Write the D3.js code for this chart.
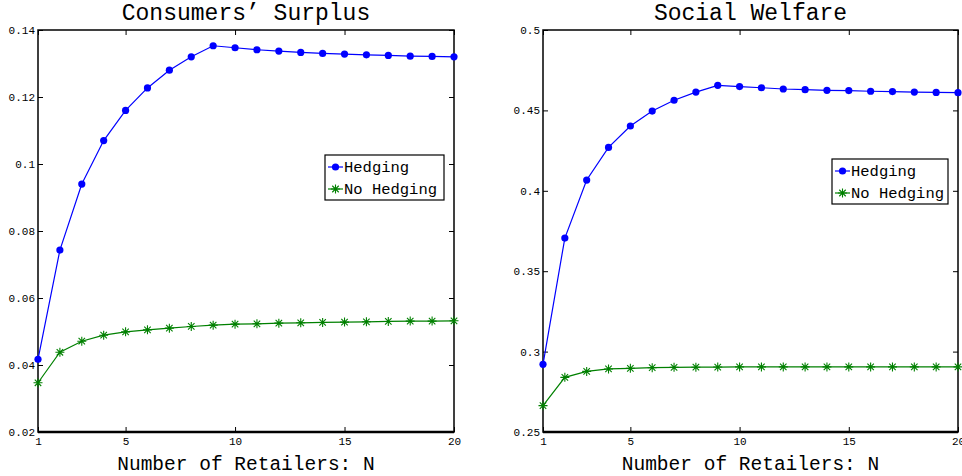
<!DOCTYPE html>
<html>
<head>
<meta charset="utf-8">
<script src="https://cdn.jsdelivr.net/npm/d3@7"></script>
<style>
  html, body { margin: 0; padding: 0; background: #fff; }
  svg { display: block; }
  text { font-family: "Liberation Mono", "DejaVu Sans Mono", monospace; fill: #000; }
</style>
</head>
<body>
<svg id="chart" width="962" height="476"></svg>
<script>
// ---- data ----
const retailers = [1,2,3,4,5,6,7,8,9,10,11,12,13,14,15,16,17,18,19,20];
const xTicks = [1,5,10,15,20];
const seriesNames = ["Hedging", "No Hedging"];

const csHedging = [0.0417,0.0743,0.0940,0.1070,0.1160,0.1227,0.1280,0.1320,0.1353,0.1347,
                   0.1341,0.1337,0.1333,0.1330,0.1328,0.1326,0.1324,0.1322,0.1321,0.1320];
const csNoHedging = [0.0347,0.0438,0.0471,0.0489,0.0499,0.0505,0.0510,0.0515,0.0519,0.0522,
                     0.0523,0.0525,0.0526,0.0527,0.0528,0.0529,0.0530,0.0531,0.0531,0.0532];
const csTicks = [0.02,0.04,0.06,0.08,0.10,0.12,0.14];
const csTickLabels = ["0.02","0.04","0.06","0.08","0.1","0.12","0.14"];

const swHedging = [0.2921,0.3706,0.4067,0.4270,0.4403,0.4496,0.4563,0.4614,0.4656,0.4648,
                   0.4641,0.4633,0.4629,0.4625,0.4623,0.4619,0.4617,0.4614,0.4612,0.4610];
const swNoHedging = [0.2664,0.2840,0.2877,0.2892,0.2896,0.2900,0.2902,0.2903,0.2904,0.2905,
                     0.2905,0.2905,0.2905,0.2905,0.2905,0.2905,0.2905,0.2905,0.2905,0.2905];
const swTicks = [0.25,0.30,0.35,0.40,0.45,0.50];
const swTickLabels = ["0.25","0.3","0.35","0.4","0.45","0.5"];

const titles = ["Consumers\u2019 Surplus", "Social Welfare"];
const xLabel = "Number of Retailers: N";

// ---- drawing ----
const svg = d3.select("#chart");
const BLUE = "#0000ff", GREEN = "#008000";

const panels = [
  { title: titles[0], h: csHedging, nh: csNoHedging, yDomain: [0.02, 0.14], yTicks: csTicks, yLabels: csTickLabels,
    x0: 38, x1: 454, y0: 30, y1: 432, legend: { x: 325, y: 155, w: 119, h: 45 } },
  { title: titles[1], h: swHedging, nh: swNoHedging, yDomain: [0.25, 0.5], yTicks: swTicks, yLabels: swTickLabels,
    x0: 543, x1: 958, y0: 30, y1: 432, legend: { x: 832, y: 159, w: 116, h: 45 } }
];

function asterisk(g, cx, cy, r, color) {
  const p = d3.path();
  p.moveTo(cx - r, cy); p.lineTo(cx + r, cy);
  p.moveTo(cx, cy - r); p.lineTo(cx, cy + r);
  const d = r * 0.72;
  p.moveTo(cx - d, cy - d); p.lineTo(cx + d, cy + d);
  p.moveTo(cx - d, cy + d); p.lineTo(cx + d, cy - d);
  g.append("path").attr("d", p.toString()).attr("stroke", color).attr("stroke-width", 1.1).attr("fill", "none");
}

panels.forEach(P => {
  const x = d3.scaleLinear().domain([1, 20]).range([P.x0, P.x1]);
  const y = d3.scaleLinear().domain(P.yDomain).range([P.y1, P.y0]);
  const g = svg.append("g");

  // axes with inward ticks
  const tickLen = 5;
  const fmtY = (d) => P.yLabels[P.yTicks.findIndex(t => Math.abs(t - d) < 1e-9)];

  const bottom = g.append("g").attr("transform", `translate(0,${P.y1})`)
    .call(d3.axisBottom(x).tickValues(xTicks).tickSize(-tickLen).tickPadding(6).tickFormat(d3.format("d")));
  const top = g.append("g").attr("transform", `translate(0,${P.y0})`)
    .call(d3.axisTop(x).tickValues(xTicks).tickSize(-tickLen).tickFormat(""));
  const left = g.append("g").attr("transform", `translate(${P.x0},0)`)
    .call(d3.axisLeft(y).tickValues(P.yTicks).tickSize(-tickLen).tickPadding(3).tickFormat(fmtY));
  const right = g.append("g").attr("transform", `translate(${P.x1},0)`)
    .call(d3.axisRight(y).tickValues(P.yTicks).tickSize(-tickLen).tickFormat(""));

  [bottom, top, left, right].forEach(a => {
    a.select(".domain").remove();
    a.selectAll(".tick line").attr("stroke", "#000").attr("stroke-width", 1);
    a.selectAll("text").style("font-family", "Liberation Mono, monospace").style("font-size", "11px").attr("fill", "#000");
  });
  bottom.selectAll("text").attr("dy", "0.6em");

  // box
  g.append("rect").attr("x", P.x0).attr("y", P.y0).attr("width", P.x1 - P.x0).attr("height", P.y1 - P.y0)
    .attr("fill", "none").attr("stroke", "#000").attr("stroke-width", 1.5);
  g.append("line").attr("x1", P.x0).attr("x2", P.x1).attr("y1", P.y1).attr("y2", P.y1)
    .attr("stroke", "#000").attr("stroke-width", 2.5);

  // lines
  const line = d3.line().x((d, i) => x(retailers[i])).y(d => y(d));
  g.append("path").datum(P.nh).attr("d", line).attr("fill", "none").attr("stroke", GREEN).attr("stroke-width", 1.2);
  g.append("path").datum(P.h).attr("d", line).attr("fill", "none").attr("stroke", BLUE).attr("stroke-width", 1.2);

  P.nh.forEach((v, i) => asterisk(g, x(retailers[i]), y(v), 4.5, GREEN));
  g.selectAll("circle.h").data(P.h).enter().append("circle")
    .attr("cx", (d, i) => x(retailers[i])).attr("cy", d => y(d)).attr("r", 3.6).attr("fill", BLUE);

  // title & x label
  g.append("text").attr("x", (P.x0 + P.x1) / 2).attr("y", 20).attr("text-anchor", "middle")
    .style("font-size", "23px").text(P.title);
  g.append("text").attr("x", (P.x0 + P.x1) / 2).attr("y", 470).attr("text-anchor", "middle")
    .style("font-size", "19.5px").text(xLabel);

  // legend
  const L = P.legend;
  const lg = g.append("g");
  lg.append("rect").attr("x", L.x).attr("y", L.y).attr("width", L.w).attr("height", L.h)
    .attr("fill", "#fff").attr("stroke", "#000").attr("stroke-width", 1.2);
  const rows = [L.y + 12, L.y + 34];
  [0, 1].forEach(k => {
    const cy = rows[k];
    const col = k === 0 ? BLUE : GREEN;
    lg.append("line").attr("x1", L.x + 3).attr("x2", L.x + 18).attr("y1", cy).attr("y2", cy)
      .attr("stroke", col).attr("stroke-width", 1.2);
    if (k === 0) lg.append("circle").attr("cx", L.x + 10.5).attr("cy", cy).attr("r", 3.6).attr("fill", BLUE);
    else asterisk(lg, L.x + 10.5, cy, 4.5, GREEN);
    lg.append("text").attr("x", L.x + 19).attr("y", cy).attr("dy", "0.35em")
      .style("font-size", "15.5px").text(seriesNames[k]);
  });
});
</script>
</body>
</html>
